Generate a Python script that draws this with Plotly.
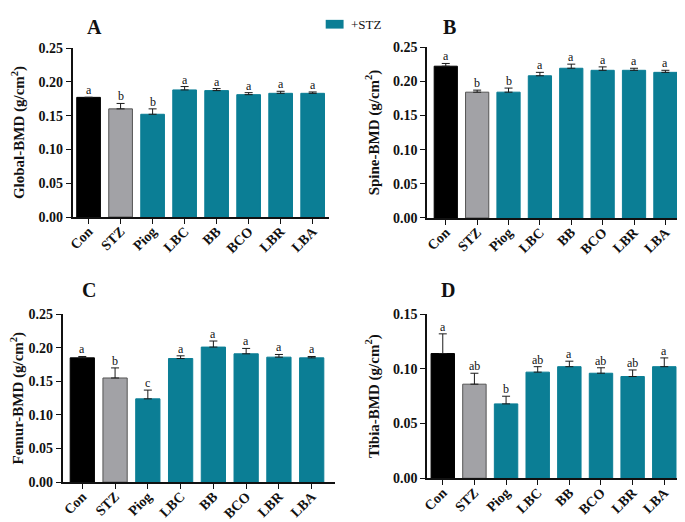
import plotly.graph_objects as go

groups = ["Con", "STZ", "Piog", "LBC", "BB", "BCO", "LBR", "LBA"]

global_bmd = [0.177, 0.160, 0.152, 0.188, 0.187, 0.181, 0.183, 0.183]
global_err = [0.000, 0.008, 0.008, 0.005, 0.003, 0.003, 0.003, 0.002]
global_sig = ["a", "b", "b", "a", "a", "a", "a", "a"]

spine_bmd = [0.222, 0.184, 0.184, 0.208, 0.219, 0.216, 0.216, 0.213]
spine_err = [0.004, 0.003, 0.006, 0.005, 0.006, 0.005, 0.003, 0.003]
spine_sig = ["a", "b", "b", "a", "a", "a", "a", "a"]

femur_bmd = [0.185, 0.155, 0.124, 0.184, 0.201, 0.191, 0.186, 0.185]
femur_err = [0.002, 0.015, 0.013, 0.004, 0.009, 0.008, 0.004, 0.002]
femur_sig = ["a", "b", "c", "a", "a", "a", "a", "a"]

tibia_bmd = [0.114, 0.086, 0.068, 0.097, 0.102, 0.096, 0.093, 0.102]
tibia_err = [0.018, 0.010, 0.007, 0.005, 0.005, 0.005, 0.006, 0.008]
tibia_sig = ["a", "ab", "b", "ab", "a", "ab", "ab", "a"]

panel_letters = ["A", "B", "C", "D"]
y_titles = ["Global-BMD (g/cm<sup>2</sup>)", "Spine-BMD (g/cm<sup>2</sup>)",
            "Femur-BMD (g/cm<sup>2</sup>)", "Tibia-BMD (g/cm<sup>2</sup>)"]
y_max = [0.25, 0.25, 0.25, 0.15]
y_ticks = [[0, 0.05, 0.10, 0.15, 0.20, 0.25], [0, 0.05, 0.10, 0.15, 0.20, 0.25],
           [0, 0.05, 0.10, 0.15, 0.20, 0.25], [0, 0.05, 0.10, 0.15]]
legend_label = "+STZ"

BLACK = "#000000"
GRAY = "#a2a2a6"
TEAL = "#0b7e95"
FONT = "Liberation Serif"
W, H = 685, 522

# pixel layout of each panel: x0, x1, ytop, ybottom
boxes = [(60, 318, 34, 208), (417, 673, 33, 209), (50, 324, 308, 481), (417, 672, 308, 477)]
xranges = [[-0.5, 7.5], [-0.6, 7.5], [-0.6, 7.7], [-0.5, 7.5]]
letter_pos = [(82, 12), (440, 12), (77, 283), (438, 283)]

data = [(global_bmd, global_err, global_sig), (spine_bmd, spine_err, spine_sig),
        (femur_bmd, femur_err, femur_sig), (tibia_bmd, tibia_err, tibia_sig)]

fig = go.Figure()
annotations = []
shapes = []
layout_axes = {}


def err_style(arr):
    return dict(type="data", array=arr, arrayminus=[0] * len(arr), symmetric=False,
                color="#1a1a1a", thickness=1, width=4)


for i, (vals, errs, sigs) in enumerate(data):
    sfx = "" if i == 0 else str(i + 1)
    xa, ya = "x" + sfx, "y" + sfx
    fig.add_trace(go.Bar(
        x=groups[:1], y=vals[:1], xaxis=xa, yaxis=ya,
        marker=dict(color=BLACK, line=dict(color=BLACK, width=1)),
        error_y=err_style(errs[:1]), width=0.74, showlegend=False, hoverinfo="skip"))
    fig.add_trace(go.Bar(
        x=groups[1:2], y=vals[1:2], xaxis=xa, yaxis=ya,
        marker=dict(color=GRAY, line=dict(color="#555555", width=1)),
        error_y=err_style(errs[1:2]), width=0.74, showlegend=False, hoverinfo="skip"))
    fig.add_trace(go.Bar(
        x=groups[2:], y=vals[2:], xaxis=xa, yaxis=ya, name=legend_label,
        marker=dict(color=TEAL, line=dict(color=TEAL, width=1)),
        error_y=err_style(errs[2:]), width=0.74, showlegend=False, hoverinfo="skip"))

    for g, v, e, s in zip(groups, vals, errs, sigs):
        annotations.append(dict(x=g, y=v + e, xref=xa, yref=ya, text=s, showarrow=False,
                                yanchor="bottom", yshift=-2,
                                font=dict(family=FONT, size=12, color="#111111")))

    x0, x1, yt, yb = boxes[i]
    layout_axes["xaxis" + sfx] = dict(
        domain=[x0 / W, x1 / W], anchor=ya, type="category", categoryorder="array",
        categoryarray=groups, range=xranges[i], showline=True, linecolor="#111111",
        linewidth=1.5, ticks="outside", ticklen=5, tickwidth=1.2, tickcolor="#111111",
        tickangle=-45, tickvals=groups, ticktext=["<b>" + g + "</b>" for g in groups],
        tickfont=dict(family=FONT, size=14, color="#111111"), ticklabelstandoff=-6,
        showgrid=False, zeroline=False, fixedrange=True)
    layout_axes["yaxis" + sfx] = dict(
        domain=[1 - yb / H, 1 - yt / H], anchor=xa, range=[0, y_max[i]],
        tickvals=y_ticks[i], ticktext=["<b>%.2f</b>" % t for t in y_ticks[i]],
        showline=True, linecolor="#111111", linewidth=1.5,
        ticks="outside", ticklen=5, tickwidth=1.2, tickcolor="#111111",
        tickfont=dict(family=FONT, size=14, color="#111111"),
        title=dict(text="<b>" + y_titles[i] + "</b>",
                   font=dict(family=FONT, size=15, color="#111111"), standoff=10),
        showgrid=False, zeroline=False, fixedrange=True)

    lx, ly = letter_pos[i]
    annotations.append(dict(x=lx / W, y=1 - ly / H, xref="paper", yref="paper",
                            text="<b>" + panel_letters[i] + "</b>", showarrow=False,
                            xanchor="center", yanchor="middle",
                            font=dict(family=FONT, size=20, color="#111111")))

# legend (swatch + label)
shapes.append(dict(type="rect", xref="paper", yref="paper",
                   x0=315 / W, x1=333 / W, y0=1 - 14 / H, y1=1 - 5 / H,
                   fillcolor=TEAL, line=dict(width=0)))
annotations.append(dict(x=338 / W, y=1 - 10 / H, xref="paper", yref="paper",
                        text=legend_label, showarrow=False, xanchor="left", yanchor="middle",
                        font=dict(family=FONT, size=13, color="#111111")))

fig.update_layout(
    width=W, height=H, margin=dict(l=0, r=0, t=0, b=0),
    paper_bgcolor="white", plot_bgcolor="white",
    barmode="overlay", annotations=annotations, shapes=shapes, showlegend=False,
    **layout_axes)

fig.write_html("out.html")
